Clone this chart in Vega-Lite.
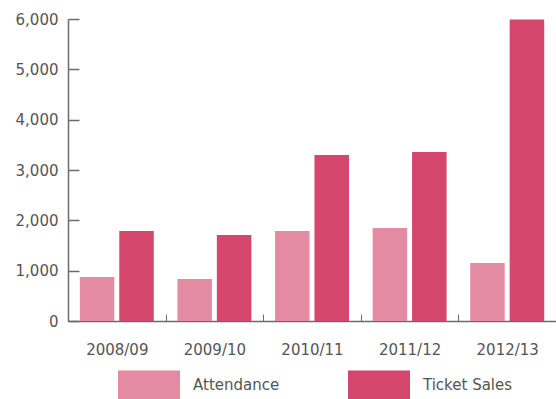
{
  "$schema": "https://vega.github.io/schema/vega-lite/v6.json",
  "width": 488,
  "height": 302,
  "autosize": {"type": "none"},
  "padding": {"left": 68, "top": 19, "right": 0, "bottom": 78},
  "background": "white",
  "config": {"view": {"stroke": null}, "font": "DejaVu Sans"},
  "data": {
    "values": [
      {"season": "2008/09", "series": "Attendance", "value": 875},
      {"season": "2008/09", "series": "Ticket Sales", "value": 1790},
      {"season": "2009/10", "series": "Attendance", "value": 835},
      {"season": "2009/10", "series": "Ticket Sales", "value": 1710},
      {"season": "2010/11", "series": "Attendance", "value": 1790},
      {"season": "2010/11", "series": "Ticket Sales", "value": 3300},
      {"season": "2011/12", "series": "Attendance", "value": 1850},
      {"season": "2011/12", "series": "Ticket Sales", "value": 3360},
      {"season": "2012/13", "series": "Attendance", "value": 1150},
      {"season": "2012/13", "series": "Ticket Sales", "value": 5990}
    ]
  },
  "mark": {"type": "bar"},
  "encoding": {
    "x": {
      "field": "season",
      "type": "nominal",
      "sort": null,
      "scale": {"paddingInner": 0, "paddingOuter": 0},
      "axis": {
        "title": null,
        "labelAngle": 0,
        "tickBand": "extent",
        "tickSize": -7,
        "tickWidth": 1,
        "domainColor": "#6b6b6b",
        "domainWidth": 1.5,
        "tickColor": "#6b6b6b",
        "labelColor": "#555555",
        "labelFontSize": 15,
        "labelPadding": 28,
        "labelBaseline": "top"
      }
    },
    "xOffset": {
      "field": "series",
      "type": "nominal",
      "scale": {"paddingInner": 0.125, "paddingOuter": 0.3}
    },
    "y": {
      "field": "value",
      "type": "quantitative",
      "scale": {"domain": [0, 6000], "nice": false},
      "axis": {
        "title": null,
        "values": [0, 1000, 2000, 3000, 4000, 5000, 6000],
        "format": ",.0f",
        "grid": false,
        "tickSize": -11,
        "tickWidth": 1.5,
        "tickColor": "#6b6b6b",
        "domainColor": "#6b6b6b",
        "domainWidth": 1.5,
        "labelColor": "#555555",
        "labelFontSize": 15,
        "labelPadding": 21
      }
    },
    "color": {
      "field": "series",
      "type": "nominal",
      "scale": {"domain": ["Attendance", "Ticket Sales"], "range": ["#e48aa2", "#d4466c"]},
      "legend": {
        "orient": "none",
        "legendX": 50,
        "legendY": 335,
        "direction": "horizontal",
        "columns": 2,
        "title": null,
        "padding": 0,
        "symbolType": "M-1,-0.484H1V0.484H-1Z",
        "symbolSize": 3844,
        "symbolStrokeWidth": 0,
        "symbolOpacity": 1,
        "labelFontSize": 15,
        "labelColor": "#555555",
        "labelOffset": 13,
        "columnPadding": 68
      }
    }
  }
}
